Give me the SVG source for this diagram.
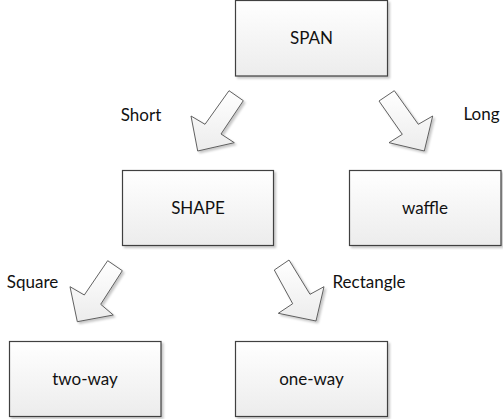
<svg xmlns="http://www.w3.org/2000/svg" width="503" height="419" viewBox="0 0 503 419">
  <defs>
    <linearGradient id="fillGrad" x1="0" y1="0" x2="0" y2="1">
      <stop offset="0" stop-color="#ffffff"/>
      <stop offset="1" stop-color="#ececec"/>
    </linearGradient>
    <filter id="shadow" x="-10%" y="-10%" width="130%" height="130%">
      <feDropShadow dx="2" dy="2" stdDeviation="1.2" flood-color="#000" flood-opacity="0.22"/>
    </filter>
  </defs>
  <style>
    .box { fill: url(#fillGrad); stroke: #3f3f3f; stroke-width: 1.2; filter: url(#shadow); }
    .arrow { fill: url(#fillGrad); stroke: #505050; stroke-width: 0.9; stroke-linejoin: miter; filter: url(#shadow); }
    .label { font-family: "Lato", "Open Sans", "Liberation Sans", sans-serif; font-size: 17px; fill: #111; text-anchor: middle; }
  </style>
  <rect width="503" height="419" fill="#ffffff"/>

  <g id="connectors">
    <polygon class="arrow" points="197.7,151 191,116 205,124.3 229,90.7 243.3,100.7 221,134 234.3,142.7"/>
    <polygon class="arrow" points="379,101 394.3,90.7 418.3,124.3 432.7,116 424.3,151 389,142.7 402.3,134.3"/>
    <polygon class="arrow" points="77.3,321.7 70,286.7 84.3,295 107.7,260.7 122.3,270.7 100.7,304.3 113.3,315"/>
    <polygon class="arrow" points="274.3,270 289,260 310,294.3 324,286.7 316,321 278.3,313.3 292.7,303.7"/>
    <text class="label" x="141" y="121">Short</text>
    <text class="label" x="481.5" y="120">Long</text>
    <text class="label" x="32.5" y="288">Square</text>
    <text class="label" x="369" y="288">Rectangle</text>
  </g>

  <g id="span">
    <rect class="box" x="235.5" y="0.5" width="152" height="75.5"/>
    <text class="label" x="311.5" y="44">SPAN</text>
  </g>
  <g id="shape">
    <rect class="box" x="122.5" y="170.5" width="151" height="75"/>
    <text class="label" x="198" y="214">SHAPE</text>
  </g>
  <g id="waffle">
    <rect class="box" x="349.5" y="170.5" width="151.5" height="75"/>
    <text class="label" x="425" y="214">waffle</text>
  </g>
  <g id="two-way">
    <rect class="box" x="9.5" y="341.5" width="151.5" height="75"/>
    <text class="label" x="85" y="385">two-way</text>
  </g>
  <g id="one-way">
    <rect class="box" x="235.5" y="341.5" width="152" height="75"/>
    <text class="label" x="311.5" y="385">one-way</text>
  </g>
</svg>
